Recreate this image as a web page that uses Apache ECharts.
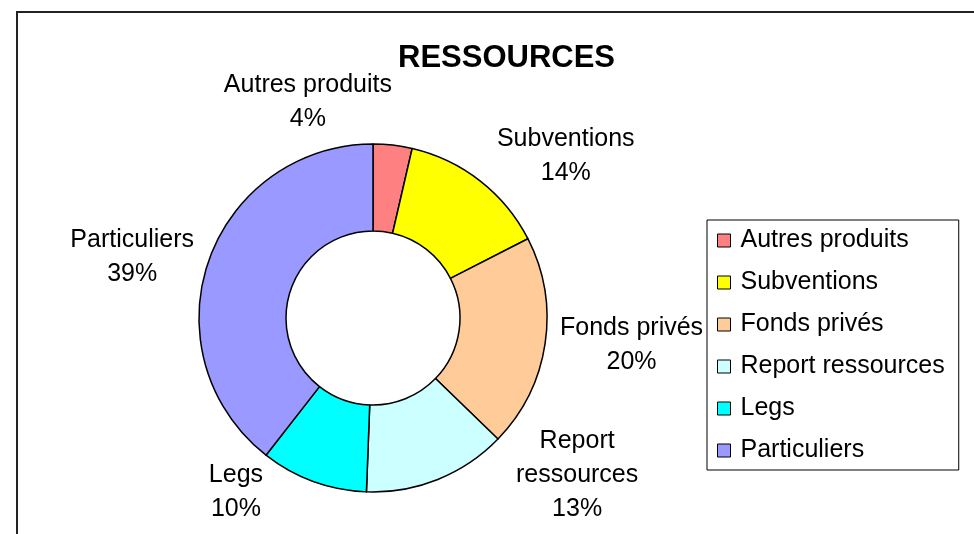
<!DOCTYPE html>
<html>
<head>
<meta charset="utf-8">
<script src="https://cdn.jsdelivr.net/npm/echarts@6/dist/echarts.min.js"></script>
<style>
    html, body {
        margin: 0;
        padding: 0;
        background: #fff;
    }

    #chart {
        width: 974px;
        height: 534px;
    }
</style>
</head>
<body>
<div id="chart"></div>

<script>
    var categories = ['Autres produits', 'Subventions', 'Fonds privés', 'Report ressources', 'Legs', 'Particuliers'];
    var values = [3.6, 13.8, 19.7, 13.3, 9.9, 39.3];
    var colors = ['#ff8080', '#ffff00', '#ffcc99', '#ccffff', '#00ffff', '#9999ff'];

    var FONT = 'Liberation Sans';
    var CX = 373, CY = 318, R_IN = 87, R_OUT = 174, H = 534;
    // boîte du titre (pour que les libellés l'évitent)
    var TITLE_BOX = { x: 398, y: 43, width: 217, height: 31 };

    function overlaps(a, b) {
        return a.x < b.x + b.width && a.x + a.width > b.x &&
            a.y < b.y + b.height && a.y + a.height > b.y;
    }

    //libellés hors de l'anneau, comme Excel : boîte centrée, poussée hors du cercle
    function placeLabel(p) {
        var r = p.labelRect;
        var side = (r.x + r.width / 2) < CX ? -1 : 1;
        var ax = side > 0 ? r.x - 5 : r.x + r.width + 5;
        var ay = r.y + r.height / 2;
        var d = Math.sqrt((ax - CX) * (ax - CX) + (ay - CY) * (ay - CY));
        var ny = (ay - CY) / d;

        var x = r.x + r.width / 2;
        var y = ay + ny * ny * ny * r.height / 2;
        y = Math.min(y, H - 8 - r.height / 2);

        var gap = R_OUT + 4;
        var cornerY = ny > 0 ? y - r.height / 2 : y + r.height / 2;
        var dy = cornerY - CY;
        if (Math.abs(dy) < gap) {
            var need = Math.sqrt(gap * gap - dy * dy);
            var cornerX = x - side * r.width / 2;
            if (side * (cornerX - CX) < need) {
                x = CX + side * (need + r.width / 2);
            }
        }

        // si le libellé touche le titre, on le passe à gauche du titre
        var box = { x: x - r.width / 2, y: y - r.height / 2, width: r.width, height: r.height };
        if (overlaps(box, TITLE_BOX)) {
            x = TITLE_BOX.x - 6 - r.width / 2;
        }
        return { x: x, y: y, align: 'center', verticalAlign: 'middle' };
    }

    var chart = echarts.init(document.getElementById('chart'));
    chart.setOption({
        animation: false,
        backgroundColor: '#fff',
        color: colors,
        graphic: [{
            type: 'rect',
            shape: { x: 17, y: 12, width: 970, height: 540 },
            style: { fill: 'none', stroke: '#222', lineWidth: 2 },
            silent: true
        }],
        title: {
            text: 'RESSOURCES',
            left: TITLE_BOX.x,
            top: TITLE_BOX.y,
            padding: 0,
            textStyle: {
                fontFamily: FONT,
                fontSize: 31,
                fontWeight: 'bold',
                color: '#000'
            }
        },
        legend: {
            orient: 'vertical',
            left: 707,
            top: 220,
            padding: [8, 14, 7, 10],
            itemGap: 17,
            itemWidth: 13,
            itemHeight: 13,
            icon: 'rect',
            borderColor: '#000',
            borderWidth: 1,
            itemStyle: { borderColor: '#000', borderWidth: 1 },
            textStyle: {
                fontFamily: FONT,
                fontSize: 25,
                lineHeight: 25,
                color: '#000',
                padding: [0, 0, 0, 5]
            },
            data: categories
        },
        series: [{
            type: 'pie',
            center: [CX, CY],
            radius: [R_IN, R_OUT],
            startAngle: 90,
            clockwise: true,
            avoidLabelOverlap: false,
            percentPrecision: 0,
            emphasis: { disabled: true },
            itemStyle: { borderColor: '#000', borderWidth: 1.5 },
            label: {
                show: true,
                position: 'outside',
                fontFamily: FONT,
                fontSize: 25,
                lineHeight: 34,
                color: '#000',
                distanceToLabelLine: 5,
                formatter: function (p) {
                    var name = p.name.length > 16 ? p.name.replace(' ', '\n') : p.name;
                    return name + '\n' + p.percent + '%';
                }
            },
            labelLine: { show: false, length: 10, length2: 0 },
            labelLayout: placeLabel,
            data: categories.map(function (name, i) {
                return { name: name, value: values[i] };
            })
        }]
    });
</script>
</body>
</html>
